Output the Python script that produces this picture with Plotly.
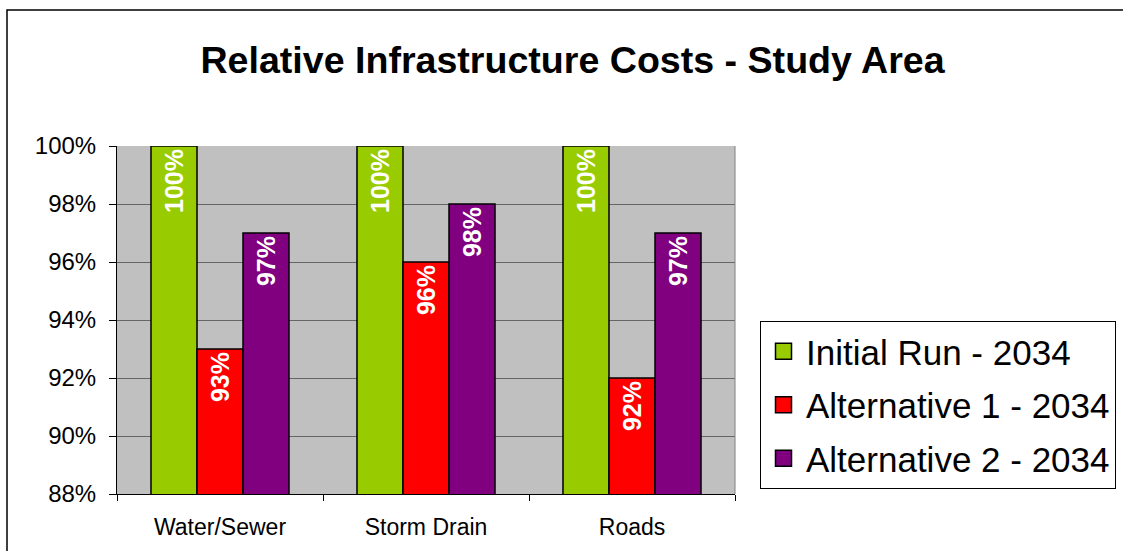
import plotly.graph_objects as go

categories = ["Water/Sewer", "Storm Drain", "Roads"]
series_names = ["Initial Run - 2034", "Alternative 1 - 2034", "Alternative 2 - 2034"]
initial_run = [1.00, 1.00, 1.00]
alternative_1 = [0.93, 0.96, 0.92]
alternative_2 = [0.97, 0.98, 0.97]
colors = ["#99CC00", "#FF0000", "#800080"]
y_ticks = [0.88, 0.90, 0.92, 0.94, 0.96, 0.98, 1.00]

FONT = "Liberation Sans, Arial, sans-serif"

fig = go.Figure()
for name, vals, col in zip(series_names, [initial_run, alternative_1, alternative_2], colors):
    fig.add_trace(go.Bar(
        x=categories, y=vals, name=name, showlegend=False,
        marker=dict(color=col, line=dict(color="#000000", width=1.5)),
        texttemplate="%{y:.0%}", textposition="inside", insidetextanchor="end",
        textangle=-90, constraintext="none",
        textfont=dict(family=FONT, size=25, color="white", weight="bold"),
        hoverinfo="skip",
    ))
for i, (name, col) in enumerate(zip(series_names, colors)):
    fig.add_trace(go.Scatter(
        x=[None], y=[None], mode="markers", name=name, legendgroup=str(i),
        marker=dict(symbol="square", size=18, color=col, line=dict(color="#000000", width=1.5)),
    ))

fig.update_layout(
    width=1123, height=551,
    margin=dict(l=117, r=388, t=146, b=57, autoexpand=False),
    paper_bgcolor="white", plot_bgcolor="#C0C0C0",
    barmode="group", bargap=0.33, bargroupgap=0,
    font=dict(family=FONT, color="#000000"),
    title=dict(text="Relative Infrastructure Costs - Study Area",
               font=dict(family=FONT, size=37.6, weight="bold", color="#000000"),
               x=572.5 / 1123, xref="container", xanchor="center",
               y=1 - 60 / 551, yref="container", yanchor="middle"),
    legend=dict(x=(760 - 117) / 618, xanchor="left", y=(494 - 321) / 348, yanchor="top",
                font=dict(family=FONT, size=35, color="#000000"),
                bordercolor="#000000", borderwidth=1, bgcolor="white",
                tracegroupgap=5, traceorder="grouped", itemwidth=35),
    xaxis=dict(type="category", showline=True, linecolor="#000000", linewidth=1,
               ticks="outside", ticklen=6, tickcolor="#000000", tickson="boundaries",
               tickfont=dict(family=FONT, size=23), ticklabelstandoff=12,
               showgrid=False),
    yaxis=dict(range=[0.88, 1.00], tickvals=y_ticks, tickformat=".0%",
               showline=True, linecolor="#000000", linewidth=1,
               ticks="outside", ticklen=7, tickcolor="#000000",
               tickfont=dict(family=FONT, size=24), ticklabelstandoff=8,
               showgrid=True, gridcolor="#666666", gridwidth=1, zeroline=False),
    shapes=[
        dict(type="rect", xref="paper", yref="paper",
             x0=(7 - 117) / 618, x1=1.9, y0=-0.5, y1=(494 - 10) / 348,
             line=dict(color="#000000", width=1.5), fillcolor="rgba(0,0,0,0)", layer="below"),
        dict(type="line", xref="paper", yref="paper", x0=1, x1=1, y0=0, y1=1,
             line=dict(color="#808080", width=1)),
    ],
)

fig.write_html("out.html", config={"displayModeBar": False},
               post_script="document.body.style.margin='0';")
